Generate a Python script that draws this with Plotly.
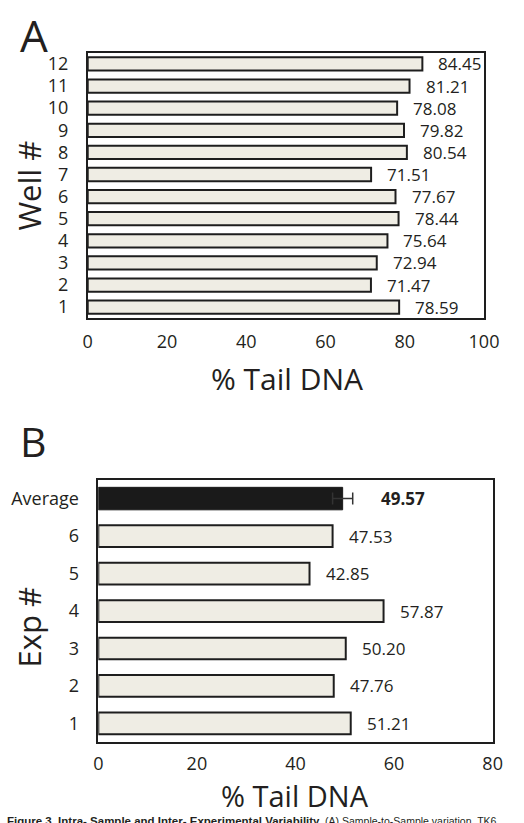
import plotly.graph_objects as go

W, H = 524, 823

# ---- data ----
wells = [str(i) for i in range(1, 13)]
well_vals = [78.59, 71.47, 72.94, 75.64, 78.44, 77.67, 71.51, 80.54, 79.82, 78.08, 81.21, 84.45]

exps = ["1", "2", "3", "4", "5", "6"]
exp_vals = [51.21, 47.76, 50.20, 57.87, 42.85, 47.53]
avg_label = ["Average"]
avg_val = [49.57]
avg_err = [2.04]

a_ticks = [0, 20, 40, 60, 80, 100]
b_ticks = [0, 20, 40, 60, 80]

FONT = "Open Sans"
TXT = "#231f20"
BAR_FILL = "#efede4"
BAR_LINE = "#1e1e1e"


def fx(px):
    return px / W


def fy(py):
    return 1 - py / H


fig = go.Figure()

fig.add_trace(go.Bar(
    y=wells, x=well_vals, orientation="h", xaxis="x", yaxis="y",
    width=0.6, marker=dict(color=BAR_FILL, line=dict(color=BAR_LINE, width=2)),
    showlegend=False, hoverinfo="x+y",
))
fig.add_trace(go.Bar(
    y=exps, x=exp_vals, orientation="h", xaxis="x2", yaxis="y2",
    width=0.58, marker=dict(color=BAR_FILL, line=dict(color=BAR_LINE, width=2)),
    showlegend=False, hoverinfo="x+y",
))
fig.add_trace(go.Bar(
    y=avg_label, x=avg_val, orientation="h", xaxis="x2", yaxis="y2",
    width=0.6, marker=dict(color="#1a1a1a", line=dict(color="#1a1a1a", width=1)),
    error_x=dict(type="data", array=avg_err, visible=True, color="#333333",
                 thickness=1.5, width=6),
    showlegend=False, hoverinfo="x+y",
))

cats_b = exps + avg_label

annotations = []
for i, v in enumerate(well_vals):
    annotations.append(dict(
        x=v, y=i, xref="x", yref="y", text=f"{v:.2f}", showarrow=False,
        xanchor="left", yanchor="middle", xshift=14,
        font=dict(family=FONT, size=17, color=TXT),
    ))
for i, v in enumerate(exp_vals):
    annotations.append(dict(
        x=v, y=i, xref="x2", yref="y2", text=f"{v:.2f}", showarrow=False,
        xanchor="left", yanchor="middle", xshift=14,
        font=dict(family=FONT, size=17, color=TXT),
    ))
annotations.append(dict(
    x=avg_val[0] + avg_err[0], y=cats_b.index(avg_label[0]), xref="x2", yref="y2",
    text=f"<b>{avg_val[0]:.2f}</b>", showarrow=False,
    xanchor="left", yanchor="middle", xshift=26,
    font=dict(family=FONT, size=17, color=TXT),
))

# panel letters and axis titles
annotations += [
    dict(x=fx(13), y=fy(33), xref="paper", yref="paper", text="A", showarrow=False,
         xanchor="left", yanchor="middle", font=dict(family=FONT, size=44, color=TXT)),
    dict(x=fx(13), y=fy(440), xref="paper", yref="paper", text="B", showarrow=False,
         xanchor="left", yanchor="middle", font=dict(family=FONT, size=41, color=TXT)),
    dict(x=fx(293), y=fy(377), xref="paper", yref="paper", text="% Tail DNA", showarrow=False,
         xanchor="center", yanchor="middle", font=dict(family=FONT, size=30, color=TXT)),
    dict(x=fx(302), y=fy(795), xref="paper", yref="paper", text="% Tail DNA", showarrow=False,
         xanchor="center", yanchor="middle", font=dict(family=FONT, size=29, color=TXT)),
    dict(x=fx(25), y=fy(184), xref="paper", yref="paper", text="Well #", showarrow=False,
         textangle=-90, xanchor="center", yanchor="middle",
         font=dict(family=FONT, size=31, color=TXT)),
    dict(x=fx(25), y=fy(627), xref="paper", yref="paper", text="Exp #", showarrow=False,
         textangle=-90, xanchor="center", yanchor="middle",
         font=dict(family=FONT, size=31, color=TXT)),
    dict(x=0, y=fy(821), xref="paper", yref="paper",
         text="<b>Figure 3. Intra- Sample and Inter- Experimental Variability.</b> "
              "<span style='font-size:10.5px'>(A) Sample-to-Sample variation. TK6</span>",
         showarrow=False, xanchor="left", yanchor="middle",
         font=dict(family="Liberation Sans", size=11.5, color=TXT)),
]

axis_common = dict(
    showline=True, mirror=True, linecolor="#1e1e1e", linewidth=1.5,
    showgrid=False, zeroline=False, ticks="", fixedrange=True,
    tickfont=dict(family=FONT, size=18, color=TXT),
)

fig.update_layout(
    width=W, height=H,
    margin=dict(l=0, r=0, t=0, b=0),
    paper_bgcolor="white", plot_bgcolor="white",
    barmode="overlay",
    font=dict(family=FONT, color=TXT),
    xaxis=dict(domain=[fx(86), fx(498)], range=[0, 100], tickvals=a_ticks,
               anchor="y", ticklabelstandoff=6, **axis_common),
    yaxis=dict(domain=[fy(317), fy(51)], type="category", range=[-0.5, 11.5],
               categoryorder="array", categoryarray=wells,
               anchor="x", ticklabelstandoff=14, **axis_common),
    xaxis2=dict(domain=[fx(97), fx(507)], range=[0, 80], tickvals=b_ticks,
                anchor="y2", ticklabelstandoff=4, **axis_common),
    yaxis2=dict(domain=[fy(742), fy(479)], type="category", range=[-0.5, 6.5],
                categoryorder="array", categoryarray=cats_b,
                anchor="x2", ticklabelstandoff=14, **axis_common),
    annotations=annotations,
)

fig.write_html("out.html")
